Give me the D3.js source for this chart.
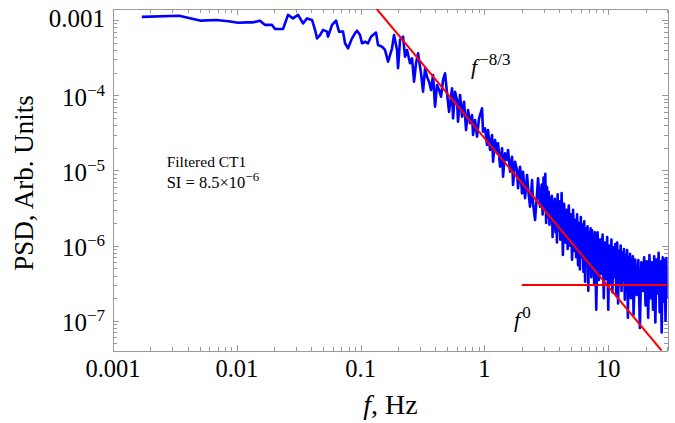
<!DOCTYPE html>
<html><head><meta charset="utf-8">
<script src="https://cdn.jsdelivr.net/npm/d3@7"></script>
<style>body{margin:0;background:#fff} svg{display:block}</style>
</head><body><svg id="c" width="675" height="423"></svg>
<script>
// ---- data ----
const freq = [
0.00171,0.00342,0.00513,0.00684,0.00855,0.01026,0.01197,0.01352,0.01539,0.0169,
0.01924,0.02035,0.02362,0.02592,0.02844,0.03122,0.03426,0.0369,0.04051,0.04282,
0.04445,0.047,0.0497,0.05354,0.05455,0.05875,0.0633,0.06692,0.0721,0.07482,
0.07913,0.0852,0.0901,0.0935,0.0989,0.1026,0.1085,0.1147,0.1213,0.1259,
0.1331,0.1382,0.1489,0.1574,0.1665,0.1793,0.1861,0.1968,0.2005,0.2081,
0.22,0.2284,0.2371,0.2506,0.2602,0.27,0.2802,0.2909,0.3075,0.3192,
0.3313,0.3439,0.3568,0.3705,0.3845,0.399,0.4141,0.4299,0.4462,0.4631,
0.4806,0.4988,0.5177,0.5474,0.5577,0.5788,0.6007,0.6118,0.6353,0.6594,
0.6844,0.7103,0.7373,0.7651,0.7942,0.8091,0.8396,0.8715,0.9045,0.956,
0.974,1.011,1.049,1.069,1.110,1.152,1.174,1.218,1.264,1.288,
1.337,1.387,1.413,1.467,1.522,1.551,1.610,1.671,1.702,1.767,
1.833,1.868,1.939,2.012,2.050,2.128,2.208,2.250,2.335,2.424,
2.470,2.563,2.660,2.710,2.812,
2.90,2.95,3.00,3.05,3.10,3.15,3.20,3.25,3.30,3.35,3.40,3.45,3.50,3.55,3.60,3.65,3.70,3.75,3.80,3.85,3.90,3.95,4.00,
4.1,4.2,4.3,4.4,4.5,4.6,4.7,4.8,4.9,5.0,5.1,5.2,5.3,5.4,5.5,5.6,5.7,5.8,5.9,6.0,
6.1,6.2,6.3,6.4,6.5,6.6,6.7,6.8,6.9,7.0,7.1,7.2,7.3,7.4,7.5,7.6,7.7,7.8,7.9,8.0,
8.2,8.4,8.6,8.8,9.0,9.2,9.4,9.6,9.8,10.0,10.2,10.4,10.6,10.8,11.0,11.2,11.4,11.6,11.8,12.0,
12.2,12.4,12.6,12.8,13.0,13.2,13.4,13.6,13.8,14.0,14.2,14.4,14.6,14.8,15.0,15.2,15.4,15.6,15.8,16.0,
16.5,17.0,17.5,18.0,18.5,19.0,19.5,20.0,20.5,21.0,21.5,22.0,22.5,23.0,23.5,24.0,24.5,25.0,25.5,26.0,
26.5,27.0,27.5,28.0,28.5,29.0,29.5,30.0
];
const psd = [
1.10e-3,1.14e-3,9.8e-4,1.0e-3,9.6e-4,9.2e-4,9.3e-4,9.3e-4,9.8e-4,8.6e-4,
8.6e-4,7.6e-4,7.6e-4,1.17e-3,1.05e-3,1.17e-3,9.0e-4,1.05e-3,1.0e-3,7.4e-4,
5.7e-4,6.3e-4,7.4e-4,7.0e-4,6.0e-4,8.6e-4,9.8e-4,7.0e-4,7.0e-4,4.9e-4,
4.2e-4,5.7e-4,6.65e-4,7.2e-4,6.3e-4,4.9e-4,5.14e-4,4.9e-4,6.0e-4,6.3e-4,
6.8e-4,4.65e-4,4.41e-4,3.99e-4,2.79e-4,4.2e-4,6.3e-4,3.99e-4,2.28e-4,5.42e-4,
5.99e-4,3.25e-4,3.99e-4,2.66e-4,3.09e-4,1.51e-4,2.66e-4,3.61e-4,1.955e-4,1.113e-4,
2.28e-4,1.762e-4,1.512e-4,1.172e-4,1.856e-4,7.03e-5,1.367e-4,1.172e-4,9.55e-5,1.593e-4,
1.955e-4,1.06e-4,6.0e-5,1.235e-4,4.93e-5,1.113e-4,8.63e-5,4.44e-5,1.006e-4,5.18e-5,
8.19e-5,3.44e-5,6.36e-5,4.23e-5,5.45e-5,2.96e-5,4.68e-5,2.81e-5,4.93e-5,6.69e-5,
3.27e-5,3.63e-5,2.18e-5,3.44e-5,1.87e-5,2.96e-5,1.305e-5,2.54e-5,1.69e-5,2.29e-5,
1.12e-5,1.97e-5,8.25e-6,1.69e-5,1.375e-5,1.87e-5,9.61e-6,1.52e-5,6.39e-6,1.305e-5,
1.01e-5,5.78e-6,1.12e-5,4.96e-6,9.61e-6,4.26e-6,8.69e-6,5.78e-6,3.29e-6,7.45e-6,
3.65e-6,2.19e-6,4.96e-6,7.85e-6,3.29e-6,
6.5e-6,2.6e-6,8.0e-6,3.2e-6,9.0e-6,2.0e-6,6.0e-6,2.4e-6,5.2e-6,1.9e-6,4.4e-6,2.2e-6,4.6e-6,1.3e-6,3.8e-6,1.7e-6,4.2e-6,1.5e-6,3.5e-6,1.1e-6,4.8e-6,1.6e-6,3.9e-6,
1.2e-6,5.0e-6,7.5e-7,3.6e-6,1.1e-6,3.0e-6,9.0e-7,3.4e-6,1.0e-6,2.6e-6,6.5e-7,3.0e-6,8.5e-7,2.2e-6,7.0e-7,2.6e-6,5.5e-7,2.0e-6,4.8e-7,2.4e-6,
7.0e-7,1.9e-6,4.5e-7,2.1e-6,3.3e-7,1.7e-6,6.0e-7,1.8e-6,2.5e-7,1.5e-6,5.0e-7,1.7e-6,3.8e-7,1.6e-6,5.5e-7,1.3e-6,3.0e-7,1.5e-6,4.5e-7,1.4e-7,
1.5e-6,3.5e-7,1.2e-6,4.2e-7,1.4e-6,2.0e-7,1.1e-6,3.6e-7,1.3e-6,1.4e-7,1.0e-6,3.2e-7,1.2e-6,2.4e-7,9.5e-7,3.8e-7,1.05e-6,2.2e-7,1.1e-6,1.7e-7,
8.5e-7,3.0e-7,1.0e-6,2.5e-7,8.0e-7,3.4e-7,9.0e-7,1.9e-7,7.5e-7,2.8e-7,8.7e-7,1.1e-7,7.0e-7,2.6e-7,7.8e-7,2.0e-7,6.5e-7,3.0e-7,7.2e-7,1.2e-7,
6.5e-7,2.2e-7,6.4e-7,8.0e-8,6.0e-7,2.5e-7,7.0e-7,1.6e-7,6.2e-7,1.1e-7,7.5e-7,2.0e-7,6.0e-7,1.4e-7,7.2e-7,9.5e-8,6.5e-7,2.3e-7,8.0e-7,1.3e-7,
6.2e-7,7.0e-8,7.0e-7,1.8e-7,6.5e-7,1.0e-7,6.8e-7,2.0e-7
];
const fitSteepF = [0.135, 27.0];
const fitSteepPSD = [1.4e-3, 4.0e-8];
const fitFlatF = [2.0, 30.2];
const fitFlatPSD = [3.0e-7, 3.0e-7];
const xTickValues = [0.001, 0.01, 0.1, 1, 10];
const xTickLabels = ["0.001", "0.01", "0.1", "1", "10"];
const yTickValues = [1e-7, 1e-6, 1e-5, 1e-4, 1e-3];
const yTickBase = ["10", "10", "10", "10", "0.001"];
const yTickExp = ["\u22127", "\u22126", "\u22125", "\u22124", ""];
const xDomain = [0.001, 30.2];
const yDomain = [4.0e-8, 1.4e-3];

// ---- layout ----
const L = 113, R = 667.7, T = 9, B = 350.7;
const serif = '"Liberation Serif","Times New Roman",serif';
const frameColor = "#9a9a9a";

const svg = d3.select("#c");
const x = d3.scaleLog().domain(xDomain).range([L, R]);
const y = d3.scaleLog().domain(yDomain).range([B, T]);

function minorTicks(domain) {
  const out = [];
  for (let e = -9; e <= 2; e++) {
    for (let k = 2; k <= 9; k++) {
      const v = k * Math.pow(10, e);
      if (v >= domain[0] && v <= domain[1]) out.push(v);
    }
  }
  return out;
}
const xMinor = minorTicks(xDomain);
const yMinor = minorTicks(yDomain);

function styleAxis(g) {
  g.selectAll("path,line").attr("stroke", frameColor).attr("stroke-width", 1).attr("shape-rendering", "crispEdges");
  g.selectAll("text").remove();
}
const axes = [
  [d3.axisBottom(x), `translate(0,${B})`, xTickValues, xMinor],
  [d3.axisTop(x), `translate(0,${T})`, xTickValues, xMinor],
  [d3.axisLeft(y), `translate(${L},0)`, yTickValues, yMinor],
  [d3.axisRight(y), `translate(${R},0)`, yTickValues, yMinor]
];
axes.forEach(([ax, tr, maj, min]) => {
  svg.append("g").attr("transform", tr)
    .call(ax.tickValues(maj).tickSizeInner(-6).tickSizeOuter(0).tickFormat(""))
    .call(styleAxis);
  svg.append("g").attr("transform", tr)
    .call(ax.tickValues(min).tickSizeInner(-3.5).tickSizeOuter(0).tickFormat(""))
    .call(styleAxis)
    .call(g => g.select(".domain").remove());
});

// ---- tick labels ----
svg.append("g").selectAll("text").data(xTickValues).join("text")
  .attr("x", d => x(d)).attr("y", 377)
  .attr("text-anchor", "middle")
  .attr("font-family", serif).attr("font-size", 24.5).attr("fill", "#000")
  .text((d, i) => xTickLabels[i]);

const yl = svg.append("g").selectAll("text").data(yTickValues).join("text")
  .attr("x", 105)
  .attr("y", (d, i) => y(d) + (yTickExp[i] ? 10.5 : 7))
  .attr("text-anchor", "end")
  .attr("font-family", serif).attr("font-size", 25).attr("fill", "#000");
yl.each(function (d, i) {
  const t = d3.select(this);
  t.append("tspan").text(yTickBase[i]);
  if (yTickExp[i]) t.append("tspan").attr("font-size", 17).attr("dy", -10).text(yTickExp[i]);
});

// ---- axis titles ----
const xt = svg.append("text").attr("x", (L + R) / 2).attr("y", 414)
  .attr("text-anchor", "middle").attr("font-family", serif).attr("font-size", 28).attr("fill", "#000");
xt.append("tspan").attr("font-style", "italic").text("f");
xt.append("tspan").text(", Hz");

svg.append("text").attr("transform", `translate(33,${183}) rotate(-90)`)
  .attr("text-anchor", "middle").attr("font-family", serif).attr("font-size", 27).attr("fill", "#000")
  .text("PSD, Arb. Units");

// ---- plot ----
svg.append("clipPath").attr("id", "clip").append("rect")
  .attr("x", L).attr("y", T).attr("width", R - L).attr("height", B - T);
const plot = svg.append("g").attr("clip-path", "url(#clip)");

const line = d3.line().x(d => x(d[0])).y(d => y(d[1]));
plot.append("path").datum(freq.map((f, i) => [f, psd[i]]))
  .attr("d", line).attr("fill", "none").attr("stroke", "#0000ff")
  .attr("stroke-width", 2.6).attr("stroke-linejoin", "round");
plot.append("path").datum(fitSteepF.map((f, i) => [f, fitSteepPSD[i]]))
  .attr("d", line).attr("fill", "none").attr("stroke", "#ff0000").attr("stroke-width", 2);
plot.append("path").datum(fitFlatF.map((f, i) => [f, fitFlatPSD[i]]))
  .attr("d", line).attr("fill", "none").attr("stroke", "#ff0000").attr("stroke-width", 2);

// ---- annotations ----
svg.append("text").attr("x", 166.7).attr("y", 166.7)
  .attr("font-family", serif).attr("font-size", 15.5).attr("fill", "#000").text("Filtered CT1");
const si = svg.append("text").attr("x", 166.7).attr("y", 187.5)
  .attr("font-family", serif).attr("font-size", 16.5).attr("fill", "#000");
si.append("tspan").text("SI = 8.5\u00d710");
si.append("tspan").attr("font-size", 13).attr("dy", -7).text("\u22126");

const a1 = svg.append("text").attr("x", 471).attr("y", 74)
  .attr("font-family", serif).attr("font-size", 22).attr("fill", "#000");
a1.append("tspan").attr("font-style", "italic").text("f");
a1.append("tspan").attr("font-size", 17).attr("dy", -9).attr("dx", 2).text("\u22128/3");

const a2 = svg.append("text").attr("x", 514).attr("y", 327)
  .attr("font-family", serif).attr("font-size", 22).attr("fill", "#000");
a2.append("tspan").attr("font-style", "italic").text("f");
a2.append("tspan").attr("font-size", 17).attr("dy", -9).attr("dx", 2).text("0");
</script></body></html>
